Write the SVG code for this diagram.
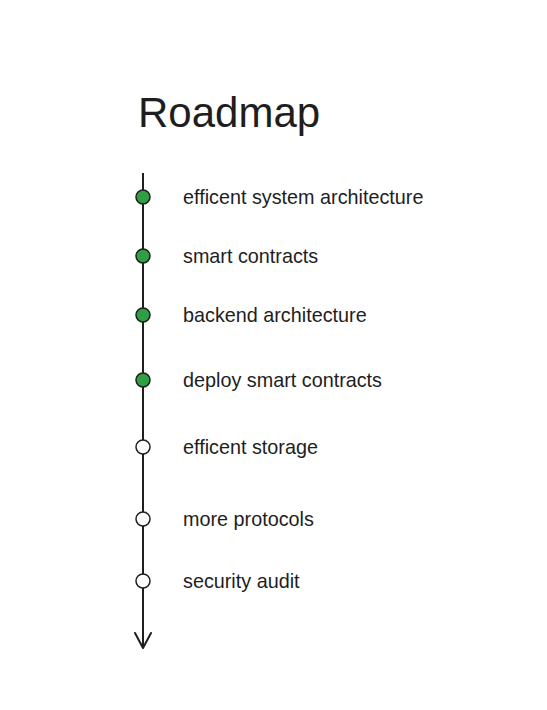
<svg xmlns="http://www.w3.org/2000/svg" width="547" height="710" viewBox="0 0 547 710">
<style>
.t{font-family:"Liberation Sans",Arial,sans-serif;font-size:19.8px;fill:#1e1e1e}
.done{fill:#2f9e44;stroke:#1e1e1e;stroke-width:1.5}
.todo{fill:#ffffff;stroke:#1e1e1e;stroke-width:1.5}
</style>
<rect width="547" height="710" fill="#ffffff"/>
<text x="138" y="127" font-family="Liberation Sans,Arial,sans-serif" font-size="42" fill="#1e1e1e">Roadmap</text>
<g id="connectors">
<path d="M143 173 L143 648" stroke="#1e1e1e" stroke-width="2" fill="none"/>
<path d="M135 633 L143 648 L151 633" stroke="#1e1e1e" stroke-width="2" fill="none" stroke-linecap="round" stroke-linejoin="round"/>
</g>
<g id="n1"><circle class="done" cx="143" cy="197" r="7"/><text class="t" x="183" y="204">efficent system architecture</text></g>
<g id="n2"><circle class="done" cx="143" cy="256" r="7"/><text class="t" x="183" y="263">smart contracts</text></g>
<g id="n3"><circle class="done" cx="143" cy="315" r="7"/><text class="t" x="183" y="322">backend architecture</text></g>
<g id="n4"><circle class="done" cx="143" cy="380" r="7"/><text class="t" x="183" y="387">deploy smart contracts</text></g>
<g id="n5"><circle class="todo" cx="143" cy="447" r="7"/><text class="t" x="183" y="454">efficent storage</text></g>
<g id="n6"><circle class="todo" cx="143" cy="519" r="7"/><text class="t" x="183" y="526">more protocols</text></g>
<g id="n7"><circle class="todo" cx="143" cy="581" r="7"/><text class="t" x="183" y="588">security audit</text></g>
</svg>
